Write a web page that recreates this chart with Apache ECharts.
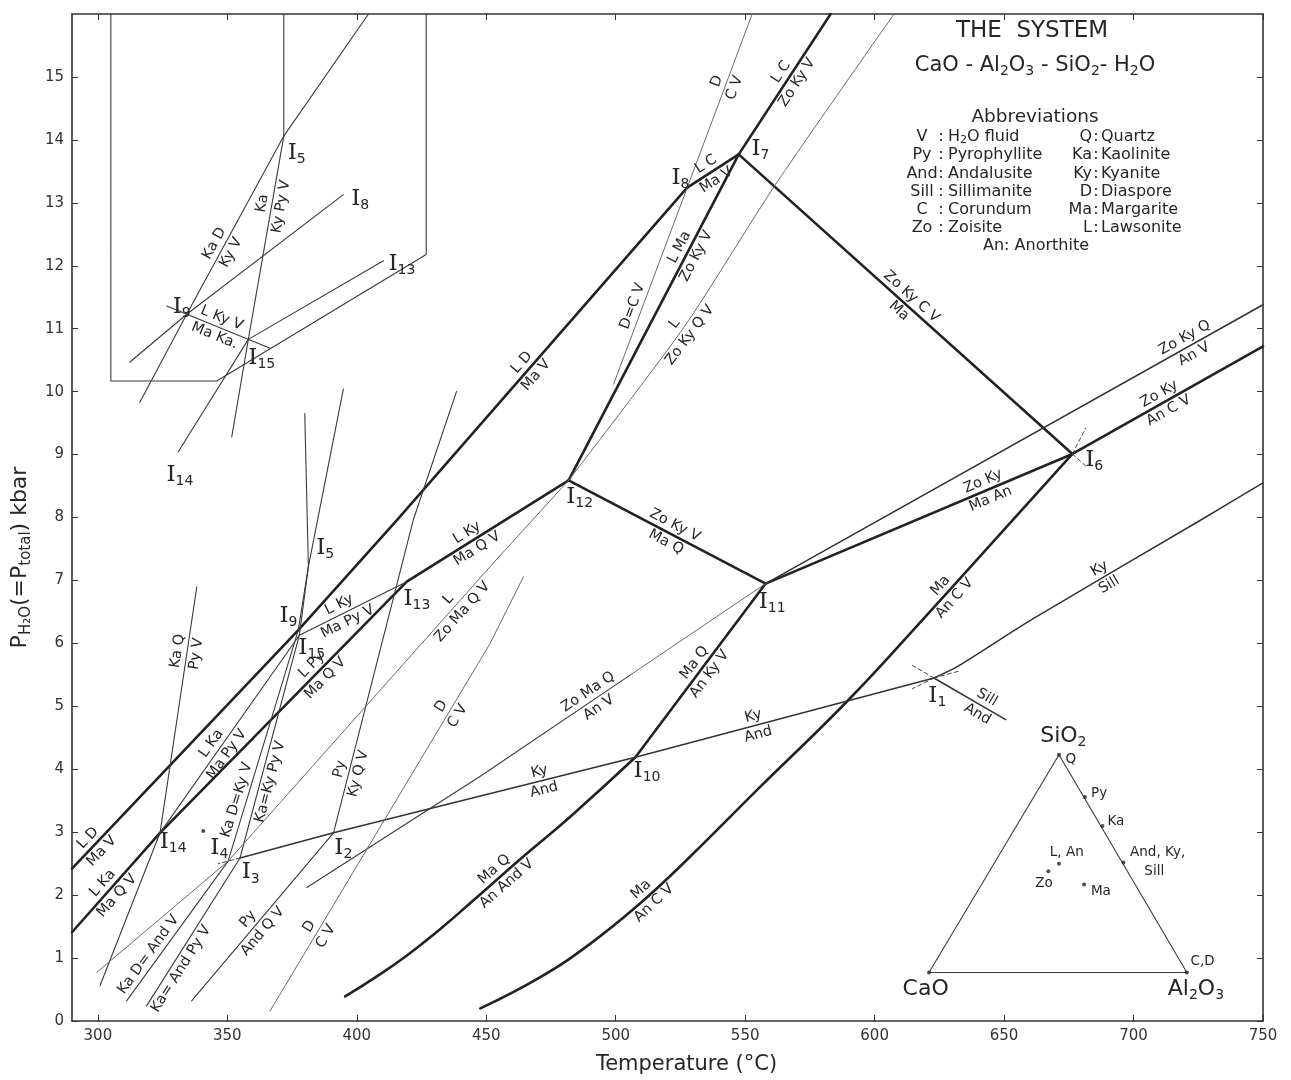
<!DOCTYPE html>
<html><head><meta charset="utf-8">
<script src="https://cdn.jsdelivr.net/npm/echarts@6/dist/echarts.min.js"></script>
<style>html,body{margin:0;padding:0;background:#fff}#c{width:1291px;height:1080px}</style>
</head><body><div id="c"></div>
<script>
// ---------- axis ticks ----------
const TICKS_T = [300,350,400,450,500,550,600,650,700,750];
const TICKS_P = [0,1,2,3,4,5,6,7,8,9,10,11,12,13,14,15];

// ---------- univariant curves [T (°C), P (kbar)] ----------
// heavy lines
const LD_MaV     = [[290,2.42],[377.4,6.21],[415.5,7.96],[527.6,13.24]];
const LKa_MaQV   = [[290,1.41],[324.0,2.99],[419.3,6.98],[481.8,8.59]];
const LMa_ZoKyV  = [[481.8,8.59],[547.5,13.77]];
const LC_MaV     = [[527.6,13.24],[547.5,13.77]];
const LC_ZoKyV   = [[547.5,13.77],[583.0,16]];
const ZoKyCV_Ma  = [[547.5,13.77],[676.4,9.01]];
const ZoKyV_MaQ  = [[481.8,8.59],[557.9,6.95]];
const MaQ_AnKyV  = [[507.6,4.19],[557.9,6.95]];
const ZoKy_MaAn  = [[557.9,6.95],[676.4,9.01]];
const ZoKy_AnCV  = [[676.4,9.01],[750,10.72]];
const MaQ_AnAndV = [[395.5,0.39],[407,0.69],[418.7,1.02],[431,1.42],[443.2,1.85],[465.1,2.64],[483.1,3.27],[507.6,4.19]];
const Ma_AnCV    = [[447.7,0.2],[470.2,0.68],[489.6,1.21],[508.9,1.85],[528.2,2.59],[555.3,3.70],[589.4,5.08],[618.4,6.37],[676.4,9.01]];
// medium lines
const ZoKyQ_AnV  = [[557.9,6.95],[750,11.38]];
const Ky_And     = [[354.9,2.59],[391,2.99],[507.6,4.19],[622.9,5.45]];
const Ky_Sill    = [[622.9,5.45],[631.9,5.63],[660.3,6.37],[726,7.96],[750,8.55]];
const Sill_And   = [[622.9,5.45],[650.6,4.79]];
// thin lines
const KaQ_PyV    = [[300.8,0.56],[324.0,2.99],[338.2,6.9]];
const LKa_MaPyV  = [[324.0,2.99],[377.8,6.13]];
const LKy_MaPyV  = [[377.8,6.13],[419.3,6.98]];
const KaD_KyV    = [[311.1,0.32],[350.3,2.54],[377.4,6.21],[381.3,7.22]];
const Ka_KyPyV   = [[318.8,0.24],[354.9,2.59],[377.8,6.13],[381.3,7.22]];
const Ka_PyDV    = [[381.3,7.22],[379.9,9.65]];
const PyD_KyV    = [[381.3,7.22],[394.8,10.04]];
const Py_KyQV    = [[336.2,0.32],[391,2.99],[421.8,7.96],[438.5,10.0]];
const D_CV_low   = [[366.5,0.16],[451.5,6.0],[464.4,7.06]];
const D_CV_high  = [[499.2,10.12],[527.6,13.24],[552.7,16]];
const L_ZoMaQV   = [[299.5,0.77],[350.3,2.54],[451.5,7.22],[481.8,8.59]];
const L_ZoKyQV   = [[481.8,8.59],[526.3,11.02],[561.7,13.29],[607.5,16]];
const ZoMaQ_AnV  = [[380.7,2.12],[447.7,3.89],[505.7,5.5]];
const ZoMaQ_AnV_meta = [[505.7,5.5],[557.9,6.95]];
// short metastable stubs (dashed)
const STUB_1 = [[622.9,5.45],[614.6,5.65]];
const STUB_2 = [[622.9,5.45],[632.6,5.56]];
const STUB_3 = [[622.9,5.45],[614.6,5.28]];
const STUB_4 = [[354.9,2.59],[346.5,2.50]];
const STUB_5 = [[676.4,9.01],[681.5,9.42]];
const STUB_6 = [[676.4,9.01],[682.0,8.80]];

// ---------- enlarged inset (upper left) ----------
const INSET_BOX       = [[305.0,16],[305.0,10.17],[345.9,10.17],[426.8,12.18],[426.8,16]];
const INSET_TOP_V     = [[371.8,16],[371.8,14.06]];
const INSET_TOP_R     = [[371.8,14.06],[404.5,16]];
const INSET_KaD_KyV   = [[371.8,14.06],[334.3,11.23],[316.2,9.83]];
const INSET_Ka_KyPyV  = [[371.8,14.06],[358.1,10.83],[351.7,9.28]];
const INSET_I8        = [[394.8,13.13],[334.3,11.23],[312.4,10.47]];
const INSET_I13       = [[410.3,12.08],[358.1,10.83]];
const INSET_I14       = [[358.1,10.83],[331.0,9.04]];
const INSET_LKyV_MaKa = [[326.6,11.36],[366.5,10.69]];

// ---------- composition triangle ----------
const TERNARY     = [[621.0,0.77],[720.6,0.77],[671.2,4.23],[621.0,0.77]];
const TERNARY_PTS = [[671.2,4.23],[681.2,3.56],[688.0,3.10],[696.1,2.52],[671.2,2.50],[667.1,2.38],[680.9,2.17],[621.0,0.77],[720.6,0.77]];
const EXTRA_DOT   = [[340.7,3.02]];

// ---------- labels ----------
// [curve, T, P, text above, text below]
const REACTION_LABELS = [
 ['LD_MaV',302.7,2.65,'L D','Ma V'],
 ['LD_MaV',464.3,10.44,'L D','Ma V'],
 ['LKa_MaQV',304.6,2.09,'L Ka','Ma Q V'],
 ['LKa_MaQV',384.5,5.58,'L Py','Ma Q V'],
 ['LKa_MaQV',445.1,7.59,'L Ky','Ma Q V'],
 ['LKa_MaPyV',347.2,4.31,'L Ka','Ma Py V'],
 ['LKy_MaPyV',394.8,6.48,'L Ky','Ma Py V'],
 ['KaQ_PyV',336.8,5.84,'Ka Q','Py V'],
 ['KaD_KyV',356.8,3.47,'Ka D=Ky V',null],
 ['Ka_KyPyV',368.4,3.78,null,'Ka=Ky Py V'],
 ['KaD_KyV',322,0.98,'Ka D= And V',null],
 ['Ka_KyPyV',334.3,0.77,null,'Ka= And Py V'],
 ['Py_KyQV',362,1.48,'Py','And Q V'],
 ['Py_KyQV',399.4,3.94,'Py','Ky Q V'],
 ['D_CV_low',387.8,1.35,'D','C V'],
 ['D_CV_low',438,4.87,'D','C V'],
 ['L_ZoMaQV',440,6.53,'L','Zo Ma Q V'],
 ['ZoMaQ_AnV',491.5,5.1,'Zo Ma Q','An V'],
 ['Ky_And',471.5,3.81,'Ky','And'],
 ['Ky_And',554,4.71,'Ky','And'],
 ['MaQ_AnKyV',533.4,5.6,'Ma Q','An Ky V'],
 ['MaQ_AnAndV',455.4,2.3,'Ma Q','An And V'],
 ['Ma_AnCV',512.1,1.99,'Ma','An C V'],
 ['Ma_AnCV',628.1,6.82,'Ma','An C V'],
 ['ZoKyV_MaQ',521.9,7.8,'Zo Ky V','Ma Q'],
 ['ZoKy_MaAn',644.2,8.35,'Zo Ky','Ma An'],
 ['ZoKyQ_AnV',722.2,10.68,'Zo Ky Q','An V'],
 ['ZoKy_AnCV',711.8,9.83,'Zo Ky','An C V'],
 ['ZoKyCV_Ma',615.2,11.55,'Zo Ky C V','Ma'],
 ['Ky_Sill',688.7,7.06,'Ky','Sill'],
 ['Sill_And',641,4.97,'Sill','And'],
 ['LMa_ZoKyV',527.6,12.23,'L Ma','Zo Ky V'],
 ['L_ZoKyQV',525.6,10.99,'L','Zo Ky Q V'],
 ['D_CV_high',506.3,11.36,'D=C V',null],
 ['D_CV_high',542.4,14.88,'D','C V'],
 ['LC_ZoKyV',567.5,14.98,'L C','Zo Ky V'],
 ['LC_MaV',537.9,13.42,'L C','Ma V'],
 ['INSET_KaD_KyV',347.8,12.29,'Ka D','Ky V'],
 ['INSET_Ka_KyPyV',366.5,12.97,'Ka','Ky Py V'],
 ['INSET_LKyV_MaKa',345.9,10.97,'L Ky V','Ma Ka.']
];
// invariant point names [subscript, T, P]
const POINT_LABELS = [
 ['1',624.2,5.17],['2',394.8,2.75],['3',359.0,2.36],['4',346.9,2.75],['5',387.8,7.51],
 ['6',684.8,8.91],['7',555.9,13.85],['8',525.0,13.40],['9',373.6,6.43],['10',512.1,3.97],
 ['11',560.4,6.66],['12',486.1,8.33],['13',423.2,6.71],['14',329.1,2.84],['15',382.6,5.93],
 ['5',376.8,13.79],['8',401.3,13.06],['13',417.4,12.03],['9',332.4,11.34],['15',363.3,10.54],['14',331.7,8.68]
];
// triangle labels [text, T, P, size]
const TERNARY_LABELS = [
 ['SiO{s|2}',672.9,4.53,'big'],['Q',675.8,4.15,'small'],['Py',686.7,3.62,'small'],['Ka',693.2,3.17,'small'],
 ['And, Ky,',709.3,2.67,'small'],['Sill',708.0,2.37,'small'],['L, An',674.2,2.67,'small'],['Zo',665.4,2.19,'small'],
 ['Ma',687.4,2.06,'small'],['C,D',726.7,0.94,'small'],['CaO',619.7,0.51,'big'],['Al{s|2}O{s|3}',724.1,0.51,'big']
];
const ABBR_LEFT  = [['V','H{s|2}O fluid'],['Py','Pyrophyllite'],['And','Andalusite'],['Sill','Sillimanite'],['C','Corundum'],['Zo','Zoisite']];
const ABBR_RIGHT = [['Q','Quartz'],['Ka','Kaolinite'],['Ky','Kyanite'],['D','Diaspore'],['Ma','Margarite'],['L','Lawsonite']];

const LINES = {LD_MaV,LKa_MaQV,LMa_ZoKyV,LC_MaV,LC_ZoKyV,ZoKyCV_Ma,ZoKyV_MaQ,MaQ_AnKyV,ZoKy_MaAn,ZoKy_AnCV,
 MaQ_AnAndV,Ma_AnCV,ZoKyQ_AnV,Ky_And,Ky_Sill,Sill_And,KaQ_PyV,LKa_MaPyV,LKy_MaPyV,KaD_KyV,Ka_KyPyV,Ka_PyDV,PyD_KyV,
 Py_KyQV,D_CV_low,D_CV_high,L_ZoMaQV,L_ZoKyQV,ZoMaQ_AnV,INSET_KaD_KyV,INSET_Ka_KyPyV,INSET_LKyV_MaKa};

const FONT = 'DejaVu Sans';
const INK = '#262626';
const chart = echarts.init(document.getElementById('c'));

function ln(data, w, color, dashed, smooth){
  return {type:'line', data:data, showSymbol:false, symbol:'none', silent:true, clip:true, z:2,
    smooth: smooth || false,
    lineStyle:{width:w, color:color, type: dashed ? [4,3] : 'solid', cap:'round', join:'round'}};
}
const SMOOTH = new Map([[MaQ_AnAndV,0.5],[Ma_AnCV,0.45],[Ky_Sill,0.25],[L_ZoKyQV,0.25]]);
const HEAVY = [LD_MaV,LKa_MaQV,LMa_ZoKyV,LC_MaV,LC_ZoKyV,ZoKyCV_Ma,ZoKyV_MaQ,MaQ_AnKyV,ZoKy_MaAn,ZoKy_AnCV,MaQ_AnAndV,Ma_AnCV];
const MEDIUM = [ZoKyQ_AnV,Ky_And,Ky_Sill,Sill_And];
const THIN = [KaQ_PyV,LKa_MaPyV,LKy_MaPyV,KaD_KyV,Ka_KyPyV,Ka_PyDV,PyD_KyV,Py_KyQV,ZoMaQ_AnV,
  INSET_BOX,INSET_TOP_V,INSET_TOP_R,INSET_KaD_KyV,INSET_Ka_KyPyV,INSET_I8,INSET_I13,INSET_I14,INSET_LKyV_MaKa,TERNARY];
const LIGHT = [D_CV_low,D_CV_high,L_ZoMaQV,L_ZoKyQV,ZoMaQ_AnV_meta];
const DASHED = [STUB_1,STUB_2,STUB_3,STUB_4,STUB_5,STUB_6];

const series = [];
const sm = d => SMOOTH.has(d) ? SMOOTH.get(d) : false;
HEAVY.forEach(d => series.push(ln(d, 2.6, '#222', false, sm(d))));
MEDIUM.forEach(d => series.push(ln(d, 1.5, '#333', false, sm(d))));
THIN.forEach(d => series.push(ln(d, 1.1, '#3a3a3a', false, sm(d))));
LIGHT.forEach(d => series.push(ln(d, 1.0, '#6a6a6a', false, sm(d))));
DASHED.forEach(d => series.push(ln(d, 1.0, '#444', true)));
series.push({type:'scatter', data:TERNARY_PTS.concat(EXTRA_DOT), symbolSize:4, itemStyle:{color:'#222'}, silent:true, z:3});

const axisCommon = {
  axisLine:{show:true, onZero:false, lineStyle:{color:'#333', width:1.6}},
  splitLine:{show:false}
};
const option = {
  animation:false,
  backgroundColor:'#ffffff',
  grid:{left:72, right:28, top:14, bottom:58},
  xAxis:[
    Object.assign({type:'value', min:290, max:750, position:'bottom',
      axisTick:{show:true, inside:true, length:6, customValues:TICKS_T, lineStyle:{color:'#333'}},
      axisLabel:{customValues:TICKS_T, fontSize:15, color:'#333', margin:8, fontFamily:FONT},
      name:'Temperature (°C)', nameLocation:'middle', nameGap:33,
      nameTextStyle:{fontSize:21, color:INK, fontFamily:FONT, padding:[0,0,0,38]}}, axisCommon),
    Object.assign({type:'value', min:290, max:750, position:'top',
      axisTick:{show:true, inside:true, length:6, customValues:TICKS_T, lineStyle:{color:'#333'}},
      axisLabel:{show:false}}, axisCommon)
  ],
  yAxis:[
    Object.assign({type:'value', min:0, max:16, position:'left',
      axisTick:{show:true, inside:true, length:6, customValues:TICKS_P, lineStyle:{color:'#333'}},
      axisLabel:{customValues:TICKS_P, fontSize:15, color:'#333', margin:8, fontFamily:FONT},
      name:'{n|P}{s|H₂O}{n|(=P}{s|total}{n|) kbar}', nameLocation:'middle', nameGap:36, nameRotate:90,
      nameTextStyle:{padding:[0,80,0,0], rich:{
        n:{fontSize:22, color:INK, fontFamily:FONT},
        s:{fontSize:15, color:INK, fontFamily:FONT, padding:[12,0,0,0]}}}}, axisCommon),
    Object.assign({type:'value', min:0, max:16, position:'right',
      axisTick:{show:true, inside:true, length:6, customValues:TICKS_P, lineStyle:{color:'#333'}},
      axisLabel:{show:false}}, axisCommon)
  ],
  series: series
};
chart.setOption(option);

// ---------- text layer ----------
const px = p => chart.convertToPixel({gridIndex:0}, p);
function project(line, anchor){
  const a = px(anchor); let best = null;
  for (let i = 0; i < line.length - 1; i++){
    const p1 = px(line[i]), p2 = px(line[i+1]);
    const dx = p2[0]-p1[0], dy = p2[1]-p1[1], L2 = dx*dx+dy*dy;
    let t = ((a[0]-p1[0])*dx + (a[1]-p1[1])*dy) / L2; t = Math.max(0, Math.min(1, t));
    const q = [p1[0]+t*dx, p1[1]+t*dy];
    const d = Math.hypot(a[0]-q[0], a[1]-q[1]);
    if (!best || d < best.d) best = {d:d, q:q, dx:dx, dy:dy};
  }
  let ang = Math.atan2(-best.dy, best.dx);
  if (ang > Math.PI/2) ang -= Math.PI;
  if (ang <= -Math.PI/2) ang += Math.PI;
  return {q:best.q, ang:ang};
}
function txt(x, y, text, opt){
  opt = opt || {};
  return {type:'text', x:x, y:y, rotation:opt.rot || 0, z:100, silent:true,
    style:Object.assign({text:text, fill:opt.fill || INK,
      font:(opt.size || 13) + 'px "' + (opt.family || FONT) + '"',
      align:opt.align || 'center', verticalAlign:opt.valign || 'middle',
      textAlign:opt.align || 'center', textVerticalAlign:opt.valign || 'middle'}, opt.rich ? {rich:opt.rich} : {})};
}
const els = [];
const LSIZE = 14.5, OFF = 9.5;
REACTION_LABELS.forEach(r => {
  const pr = project(LINES[r[0]], [r[1], r[2]]);
  const s = Math.sin(pr.ang), c = Math.cos(pr.ang);
  const nx = -s, ny = -c;
  if (r[3]) els.push(txt(pr.q[0] + nx*OFF, pr.q[1] + ny*OFF, r[3], {rot:pr.ang, size:LSIZE}));
  if (r[4]) els.push(txt(pr.q[0] - nx*OFF, pr.q[1] - ny*OFF, r[4], {rot:pr.ang, size:LSIZE}));
});
const IRICH = {i:{fontSize:23, fontFamily:'DejaVu Serif', fill:INK, color:INK},
               s:{fontSize:14, fontFamily:FONT, fill:INK, color:INK, padding:[13,0,0,0]}};
POINT_LABELS.forEach(p => {
  const q = px([p[1], p[2]]);
  els.push(txt(q[0], q[1], '{i|I}{s|' + p[0] + '}', {rich:IRICH}));
});
const TRICH_BIG = {s:{fontSize:14, fontFamily:FONT, fill:INK, color:INK, padding:[12,0,0,0]}};
TERNARY_LABELS.forEach(t => {
  const q = px([t[1], t[2]]);
  const big = t[3] === 'big';
  els.push(txt(q[0], q[1], t[0], {size: big ? 22 : 13.5, rich: big ? TRICH_BIG : null}));
});
// title and abbreviations
const SUBR = {s:{fontSize:14, fontFamily:FONT, fill:INK, color:INK, padding:[10,0,0,0]}};
els.push(txt(1032, 31, 'THE  SYSTEM', {size:23}));
els.push(txt(1035, 66, 'CaO - Al{s|2}O{s|3} - SiO{s|2}- H{s|2}O', {size:21, rich:SUBR}));
els.push(txt(1035, 117, 'Abbreviations', {size:18.5}));
const SUBS = {s:{fontSize:11, fontFamily:FONT, fill:INK, color:INK, padding:[7,0,0,0]}};
ABBR_LEFT.forEach((a, i) => {
  const y = 137 + i*18.2;
  els.push(txt(922, y, a[0], {size:16}));
  els.push(txt(941, y, ':', {size:16}));
  els.push(txt(948, y, a[1], {size:16, align:'left', rich:SUBS}));
});
ABBR_RIGHT.forEach((a, i) => {
  const y = 137 + i*18.2;
  els.push(txt(1092, y, a[0], {size:16, align:'right'}));
  els.push(txt(1096, y, ':', {size:16}));
  els.push(txt(1101, y, a[1], {size:16, align:'left'}));
});
els.push(txt(1036, 246, 'An: Anorthite', {size:16}));
chart.setOption({graphic:{elements:els}});
</script></body></html>
